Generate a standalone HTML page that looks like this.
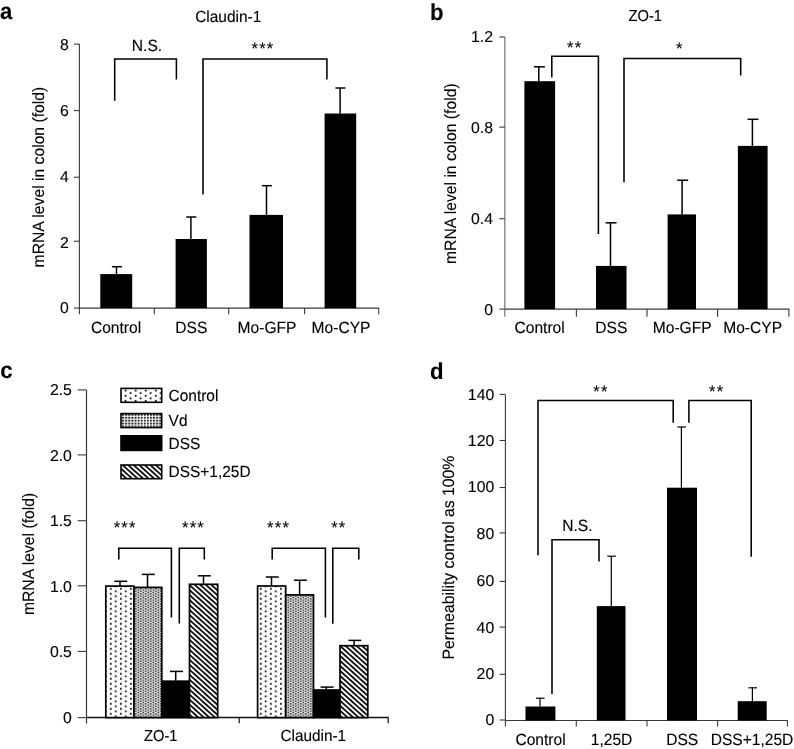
<!DOCTYPE html>
<html><head><meta charset="utf-8"><title>Figure</title>
<style>
html,body{margin:0;padding:0;background:#fff;}
svg{display:block;}
svg text{font-family:"Liberation Sans", Arial, Helvetica, sans-serif;fill:#000;stroke:#000;stroke-width:0.12px;text-rendering:geometricPrecision;}
</style></head><body>
<svg width="794" height="749" viewBox="0 0 794 749">
<defs>
<pattern id="p1" width="10.06" height="5" patternUnits="userSpaceOnUse" patternTransform="translate(110.76 588.8)">
<rect x="-1" y="-1" width="13" height="8" fill="#fff"/>
<circle cx="0" cy="0" r="1"/><circle cx="10.06" cy="0" r="1"/><circle cx="0" cy="5" r="1"/><circle cx="10.06" cy="5" r="1"/>
<circle cx="5.03" cy="2.5" r="1"/>
</pattern>
<pattern id="p1b" width="10.06" height="5" patternUnits="userSpaceOnUse" patternTransform="translate(260.75 588.8)">
<rect x="-1" y="-1" width="13" height="8" fill="#fff"/>
<circle cx="0" cy="0" r="1"/><circle cx="10.06" cy="0" r="1"/><circle cx="0" cy="5" r="1"/><circle cx="10.06" cy="5" r="1"/>
<circle cx="5.03" cy="2.5" r="1"/>
</pattern>
<pattern id="p1c" width="10.06" height="5.2" patternUnits="userSpaceOnUse" patternTransform="translate(125.58 390.6)">
<rect x="-1" y="-1" width="13" height="8" fill="#fff"/>
<circle cx="0" cy="0" r="1"/><circle cx="10.06" cy="0" r="1"/><circle cx="0" cy="5.2" r="1"/><circle cx="10.06" cy="5.2" r="1"/>
<circle cx="5.03" cy="2.6" r="1"/>
</pattern>
<pattern id="p2c" width="3.1" height="2.9" patternUnits="userSpaceOnUse" patternTransform="translate(125.2 416.8)">
<rect x="-1" y="-1" width="6" height="6" fill="#fff"/>
<rect x="0" y="0" width="2.0" height="1.8" fill="#222"/>
</pattern>
<pattern id="p2" width="5" height="2.5" patternUnits="userSpaceOnUse" patternTransform="translate(140.69 621.36)">
<rect x="-1" y="-1" width="8" height="5" fill="#fff"/>
<circle cx="0" cy="0" r="0.88"/><circle cx="5" cy="0" r="0.88"/><circle cx="0" cy="2.5" r="0.88"/><circle cx="5" cy="2.5" r="0.88"/>
<circle cx="2.5" cy="1.25" r="0.88"/>
</pattern>
<pattern id="p4" width="3.7" height="3.7" patternUnits="userSpaceOnUse" patternTransform="rotate(42)">
<rect width="3.7" height="3.7" fill="#fff"/>
<rect x="0" y="0" width="3.7" height="1.7" fill="#000"/>
</pattern>
</defs>
<rect width="794" height="749" fill="#fff"/>
<text transform="translate(0 19.2) scale(0.957 1)" font-size="23.2" text-anchor="start" font-weight="bold">a</text>
<text transform="translate(228.2 21.6) scale(0.965 1)" font-size="16.01" text-anchor="middle">Claudin-1</text>
<line x1="79.4" y1="44.1" x2="79.4" y2="314.2" stroke="#3a3a3a" stroke-width="1.1"/>
<line x1="79.4" y1="308.1" x2="379" y2="308.1" stroke="#3a3a3a" stroke-width="1.1"/>
<line x1="74" y1="308.1" x2="79.4" y2="308.1" stroke="#3a3a3a" stroke-width="1.1"/>
<text transform="translate(68.9 313.4) scale(1.0 1)" font-size="15.8" text-anchor="end">0</text>
<line x1="74" y1="241.2" x2="79.4" y2="241.2" stroke="#3a3a3a" stroke-width="1.1"/>
<text transform="translate(68.9 247.5) scale(1.0 1)" font-size="15.8" text-anchor="end">2</text>
<line x1="74" y1="177.2" x2="79.4" y2="177.2" stroke="#3a3a3a" stroke-width="1.1"/>
<text transform="translate(68.9 181.5) scale(1.0 1)" font-size="15.8" text-anchor="end">4</text>
<line x1="74" y1="110.6" x2="79.4" y2="110.6" stroke="#3a3a3a" stroke-width="1.1"/>
<text transform="translate(68.9 115.7) scale(1.0 1)" font-size="15.8" text-anchor="end">6</text>
<line x1="74" y1="44.1" x2="79.4" y2="44.1" stroke="#3a3a3a" stroke-width="1.1"/>
<text transform="translate(68.9 49.8) scale(1.0 1)" font-size="15.8" text-anchor="end">8</text>
<line x1="154.3" y1="308.1" x2="154.3" y2="314.2" stroke="#3a3a3a" stroke-width="1.1"/>
<line x1="228.7" y1="308.1" x2="228.7" y2="314.2" stroke="#3a3a3a" stroke-width="1.1"/>
<line x1="304.6" y1="308.1" x2="304.6" y2="314.2" stroke="#3a3a3a" stroke-width="1.1"/>
<line x1="378.7" y1="308.1" x2="378.7" y2="314.2" stroke="#3a3a3a" stroke-width="1.1"/>
<text transform="translate(44 267.4) rotate(-90) scale(0.957 1)" font-size="16.41" text-anchor="start">mRNA level in colon (fold)</text>
<rect x="100.3" y="274.1" width="31.9" height="34.0" fill="#000"/>
<line x1="116.5" y1="266.7" x2="116.5" y2="274.1" stroke="#000" stroke-width="1.5"/>
<line x1="111.9" y1="266.7" x2="121.9" y2="266.7" stroke="#000" stroke-width="1.5"/>
<rect x="175.6" y="239" width="31.3" height="69.1" fill="#000"/>
<line x1="190.9" y1="217" x2="190.9" y2="239" stroke="#000" stroke-width="1.5"/>
<line x1="186.3" y1="217" x2="196.3" y2="217" stroke="#000" stroke-width="1.5"/>
<rect x="249.5" y="214.9" width="33.5" height="93.2" fill="#000"/>
<line x1="266.5" y1="185.7" x2="266.5" y2="214.9" stroke="#000" stroke-width="1.5"/>
<line x1="261.9" y1="185.7" x2="271.9" y2="185.7" stroke="#000" stroke-width="1.5"/>
<rect x="324.6" y="113.5" width="31.6" height="194.6" fill="#000"/>
<line x1="340.1" y1="88" x2="340.1" y2="113.5" stroke="#000" stroke-width="1.5"/>
<line x1="335.5" y1="88" x2="345.5" y2="88" stroke="#000" stroke-width="1.5"/>
<text transform="translate(116 333.25) scale(0.957 1)" font-size="16.3" text-anchor="middle">Control</text>
<text transform="translate(191.3 333.25) scale(0.957 1)" font-size="16.3" text-anchor="middle">DSS</text>
<text transform="translate(267 333.25) scale(0.957 1)" font-size="16.3" text-anchor="middle">Mo-GFP</text>
<text transform="translate(341 333.25) scale(0.957 1)" font-size="16.3" text-anchor="middle">Mo-CYP</text>
<polyline points="114.7,100.8 114.7,58.9 176.4,58.9 176.4,79.4" fill="none" stroke="#000" stroke-width="1.55" stroke-linejoin="miter"/>
<text transform="translate(147 50.8) scale(0.957 1)" font-size="16.3" text-anchor="middle">N.S.</text>
<polyline points="203,194.6 203,58.9 326.9,58.9 326.9,79.4" fill="none" stroke="#000" stroke-width="1.55" stroke-linejoin="miter"/>
<text x="251.51" y="53.6" font-size="16.6" letter-spacing="1.2" stroke-width="0.5">***</text>
<text transform="translate(430 19.5) scale(0.957 1)" font-size="23.2" text-anchor="start" font-weight="bold">b</text>
<text transform="translate(645.3 21.4) scale(0.925 1)" font-size="15.89" text-anchor="middle">ZO-1</text>
<line x1="504.8" y1="37" x2="504.8" y2="316.8" stroke="#777" stroke-width="1.2"/>
<line x1="504.8" y1="309.1" x2="789.3" y2="309.1" stroke="#3a3a3a" stroke-width="1.1"/>
<line x1="499.3" y1="309.1" x2="504.8" y2="309.1" stroke="#3a3a3a" stroke-width="1.1"/>
<text transform="translate(493.0 314.90000000000003) scale(1.0 1)" font-size="15.8" text-anchor="end">0</text>
<line x1="499.3" y1="218.7" x2="504.8" y2="218.7" stroke="#3a3a3a" stroke-width="1.1"/>
<text transform="translate(493.0 223.79999999999998) scale(1.0 1)" font-size="15.8" text-anchor="end">0.4</text>
<line x1="499.3" y1="127.1" x2="504.8" y2="127.1" stroke="#3a3a3a" stroke-width="1.1"/>
<text transform="translate(493.0 132.79999999999998) scale(1.0 1)" font-size="15.8" text-anchor="end">0.8</text>
<line x1="499.3" y1="37" x2="504.8" y2="37" stroke="#3a3a3a" stroke-width="1.1"/>
<text transform="translate(493.0 41.9) scale(1.0 1)" font-size="15.8" text-anchor="end">1.2</text>
<line x1="576.4" y1="309.1" x2="576.4" y2="316.7" stroke="#3a3a3a" stroke-width="1.1"/>
<line x1="647" y1="309.1" x2="647" y2="316.7" stroke="#3a3a3a" stroke-width="1.1"/>
<line x1="717.6" y1="309.1" x2="717.6" y2="316.7" stroke="#3a3a3a" stroke-width="1.1"/>
<line x1="788.9" y1="309.1" x2="788.9" y2="316.7" stroke="#3a3a3a" stroke-width="1.1"/>
<text transform="translate(456 264.0) rotate(-90) scale(0.957 1)" font-size="16.41" text-anchor="start">mRNA level in colon (fold)</text>
<rect x="524.4" y="81.2" width="30.7" height="227.9" fill="#000"/>
<line x1="538.8" y1="66.8" x2="538.8" y2="81.2" stroke="#000" stroke-width="1.5"/>
<line x1="533.9" y1="66.8" x2="544.9" y2="66.8" stroke="#000" stroke-width="1.5"/>
<rect x="596" y="265.9" width="30.5" height="43.2" fill="#000"/>
<line x1="610.5" y1="222.8" x2="610.5" y2="265.9" stroke="#000" stroke-width="1.5"/>
<line x1="605.6" y1="222.8" x2="616.6" y2="222.8" stroke="#000" stroke-width="1.5"/>
<rect x="667.6" y="214.4" width="28.4" height="94.7" fill="#000"/>
<line x1="682.1" y1="180.2" x2="682.1" y2="214.4" stroke="#000" stroke-width="1.5"/>
<line x1="677.2" y1="180.2" x2="688.2" y2="180.2" stroke="#000" stroke-width="1.5"/>
<rect x="737.9" y="145.9" width="29.7" height="163.2" fill="#000"/>
<line x1="752.4" y1="119.3" x2="752.4" y2="145.9" stroke="#000" stroke-width="1.5"/>
<line x1="747.5" y1="119.3" x2="758.5" y2="119.3" stroke="#000" stroke-width="1.5"/>
<text transform="translate(539.6 333.25) scale(0.957 1)" font-size="16.3" text-anchor="middle">Control</text>
<text transform="translate(611.3 333.25) scale(0.957 1)" font-size="16.3" text-anchor="middle">DSS</text>
<text transform="translate(682.2 333.25) scale(0.957 1)" font-size="16.3" text-anchor="middle">Mo-GFP</text>
<text transform="translate(752.6 333.25) scale(0.957 1)" font-size="16.3" text-anchor="middle">Mo-CYP</text>
<polyline points="551.8,77.4 551.8,56.3 598.4,56.3 598.4,234" fill="none" stroke="#000" stroke-width="1.55" stroke-linejoin="miter"/>
<text x="567.04" y="53.4" font-size="16.6" letter-spacing="1.2" stroke-width="0.5">**</text>
<polyline points="624,182.3 624,58.4 740.7,58.4 740.7,75.6" fill="none" stroke="#000" stroke-width="1.55" stroke-linejoin="miter"/>
<text x="676.07" y="54.0" font-size="16.6" letter-spacing="1.2" stroke-width="0.5">*</text>
<text transform="translate(0.2 377.8) scale(0.957 1)" font-size="23.2" text-anchor="start" font-weight="bold">c</text>
<line x1="86.5" y1="389.9" x2="86.5" y2="723.6" stroke="#3a3a3a" stroke-width="1.2"/>
<line x1="86.5" y1="717.6" x2="388.7" y2="717.6" stroke="#111" stroke-width="1.5"/>
<line x1="77.7" y1="717.6" x2="86.5" y2="717.6" stroke="#3a3a3a" stroke-width="1.1"/>
<text transform="translate(71.9 722.5) scale(1.0 1)" font-size="15.8" text-anchor="end">0</text>
<line x1="77.7" y1="651.4" x2="86.5" y2="651.4" stroke="#3a3a3a" stroke-width="1.1"/>
<text transform="translate(71.9 657.3000000000001) scale(1.0 1)" font-size="15.8" text-anchor="end">0.5</text>
<line x1="77.7" y1="585.8" x2="86.5" y2="585.8" stroke="#3a3a3a" stroke-width="1.1"/>
<text transform="translate(71.9 591.7) scale(1.0 1)" font-size="15.8" text-anchor="end">1.0</text>
<line x1="77.7" y1="520.7" x2="86.5" y2="520.7" stroke="#3a3a3a" stroke-width="1.1"/>
<text transform="translate(71.9 526.3000000000001) scale(1.0 1)" font-size="15.8" text-anchor="end">1.5</text>
<line x1="77.7" y1="454.9" x2="86.5" y2="454.9" stroke="#3a3a3a" stroke-width="1.1"/>
<text transform="translate(71.9 460.8) scale(1.0 1)" font-size="15.8" text-anchor="end">2.0</text>
<line x1="77.7" y1="389.9" x2="86.5" y2="389.9" stroke="#3a3a3a" stroke-width="1.1"/>
<text transform="translate(71.9 394.8) scale(1.0 1)" font-size="15.8" text-anchor="end">2.5</text>
<line x1="239.2" y1="717.6" x2="239.2" y2="723.3" stroke="#111" stroke-width="1.2"/>
<line x1="388.2" y1="717.6" x2="388.2" y2="723.3" stroke="#111" stroke-width="1.2"/>
<text transform="translate(34.1 615.1) rotate(-90) scale(0.957 1)" font-size="16.46" text-anchor="start">mRNA level (fold)</text>
<rect x="121" y="388.4" width="40.7" height="13.9" fill="url(#p1c)" stroke="#000" stroke-width="1.6"/>
<text transform="translate(168.6 401.1) scale(0.957 1)" font-size="16.14" text-anchor="start">Control</text>
<rect x="121" y="413.59999999999997" width="40.7" height="14.0" fill="url(#p2c)" stroke="#000" stroke-width="1.6"/>
<text transform="translate(168.6 425.5) scale(0.957 1)" font-size="16.14" text-anchor="start">Vd</text>
<rect x="121" y="435.8" width="40.7" height="14.6" fill="#000" stroke="#000" stroke-width="1.6"/>
<text transform="translate(168.6 448.8) scale(0.957 1)" font-size="16.14" text-anchor="start">DSS</text>
<rect x="121" y="465.0" width="40.7" height="13.7" fill="url(#p4)" stroke="#000" stroke-width="1.6"/>
<text transform="translate(168.6 477.3) scale(0.957 1)" font-size="16.14" text-anchor="start">DSS+1,25D</text>
<line x1="120" y1="581.3" x2="120" y2="586.1" stroke="#000" stroke-width="1.5"/>
<line x1="114.3" y1="581.3" x2="127.3" y2="581.3" stroke="#000" stroke-width="1.5"/>
<rect x="105.8" y="586.1" width="28.2" height="131.5" fill="url(#p1)" stroke="#000" stroke-width="1.7"/>
<line x1="147.5" y1="574.4" x2="147.5" y2="587.4" stroke="#000" stroke-width="1.5"/>
<line x1="141.8" y1="574.4" x2="154.8" y2="574.4" stroke="#000" stroke-width="1.5"/>
<rect x="134.0" y="587.4" width="27.8" height="130.2" fill="url(#p2)" stroke="#000" stroke-width="1.7"/>
<line x1="175.7" y1="671.4" x2="175.7" y2="681.2" stroke="#000" stroke-width="1.5"/>
<line x1="170.0" y1="671.4" x2="183.0" y2="671.4" stroke="#000" stroke-width="1.5"/>
<rect x="161.8" y="681.2" width="27.7" height="36.4" fill="#000" stroke="#000" stroke-width="1.7"/>
<line x1="203.5" y1="575.8" x2="203.5" y2="584.3" stroke="#000" stroke-width="1.5"/>
<line x1="197.8" y1="575.8" x2="210.8" y2="575.8" stroke="#000" stroke-width="1.5"/>
<rect x="189.5" y="584.3" width="28.2" height="133.3" fill="url(#p4)" stroke="#000" stroke-width="1.7"/>
<line x1="271.5" y1="577.0" x2="271.5" y2="586.0" stroke="#000" stroke-width="1.5"/>
<line x1="265.8" y1="577.0" x2="278.8" y2="577.0" stroke="#000" stroke-width="1.5"/>
<rect x="257.6" y="586.0" width="28.1" height="131.6" fill="url(#p1b)" stroke="#000" stroke-width="1.7"/>
<line x1="299.6" y1="580.2" x2="299.6" y2="594.9" stroke="#000" stroke-width="1.5"/>
<line x1="293.90000000000003" y1="580.2" x2="306.90000000000003" y2="580.2" stroke="#000" stroke-width="1.5"/>
<rect x="285.7" y="594.9" width="27.8" height="122.7" fill="url(#p2)" stroke="#000" stroke-width="1.7"/>
<line x1="326.3" y1="687.1" x2="326.3" y2="690.0" stroke="#000" stroke-width="1.5"/>
<line x1="320.6" y1="687.1" x2="333.6" y2="687.1" stroke="#000" stroke-width="1.5"/>
<rect x="313.5" y="690.0" width="26.5" height="27.6" fill="#000" stroke="#000" stroke-width="1.7"/>
<line x1="354.1" y1="640.4" x2="354.1" y2="645.7" stroke="#000" stroke-width="1.5"/>
<line x1="348.40000000000003" y1="640.4" x2="361.40000000000003" y2="640.4" stroke="#000" stroke-width="1.5"/>
<rect x="340.0" y="645.7" width="27.8" height="71.9" fill="url(#p4)" stroke="#000" stroke-width="1.7"/>
<text transform="translate(160.8 741.4) scale(0.925 1)" font-size="15.89" text-anchor="middle">ZO-1</text>
<text transform="translate(313.3 741.4) scale(0.96 1)" font-size="15.99" text-anchor="middle">Claudin-1</text>
<polyline points="118.8,559.4 118.8,548.3 171.4,548.3 171.4,617.4" fill="none" stroke="#000" stroke-width="1.55" stroke-linejoin="miter"/>
<polyline points="179.3,623.6 179.3,548.3 204.3,548.3 204.3,559.4" fill="none" stroke="#000" stroke-width="1.55" stroke-linejoin="miter"/>
<polyline points="272.2,559.6 272.2,548.3 325.4,548.3 325.4,617.4" fill="none" stroke="#000" stroke-width="1.55" stroke-linejoin="miter"/>
<polyline points="332.8,623.7 332.8,548.3 358.8,548.3 358.8,559.4" fill="none" stroke="#000" stroke-width="1.55" stroke-linejoin="miter"/>
<text x="113.71" y="533.3" font-size="16.6" letter-spacing="1.2" stroke-width="0.5">***</text>
<text x="182.01" y="533.3" font-size="16.6" letter-spacing="1.2" stroke-width="0.5">***</text>
<text x="267.11" y="533.3" font-size="16.6" letter-spacing="1.2" stroke-width="0.5">***</text>
<text x="331.14" y="533.3" font-size="16.6" letter-spacing="1.2" stroke-width="0.5">**</text>
<text transform="translate(430 378.5) scale(0.957 1)" font-size="23.2" text-anchor="start" font-weight="bold">d</text>
<line x1="505.4" y1="394.4" x2="505.4" y2="726.5" stroke="#3a3a3a" stroke-width="1.1"/>
<line x1="505.4" y1="720.5" x2="787.8" y2="720.5" stroke="#3a3a3a" stroke-width="1.1"/>
<line x1="499.6" y1="720" x2="505.4" y2="720" stroke="#3a3a3a" stroke-width="1.1"/>
<text transform="translate(494.2 725.4) scale(1.0 1)" font-size="15.8" text-anchor="end">0</text>
<line x1="499.6" y1="674.3" x2="505.4" y2="674.3" stroke="#3a3a3a" stroke-width="1.1"/>
<text transform="translate(494.2 679.2) scale(1.0 1)" font-size="15.8" text-anchor="end">20</text>
<line x1="499.6" y1="627.1" x2="505.4" y2="627.1" stroke="#3a3a3a" stroke-width="1.1"/>
<text transform="translate(494.2 632.8000000000001) scale(1.0 1)" font-size="15.8" text-anchor="end">40</text>
<line x1="499.6" y1="581.4" x2="505.4" y2="581.4" stroke="#3a3a3a" stroke-width="1.1"/>
<text transform="translate(494.2 586.1) scale(1.0 1)" font-size="15.8" text-anchor="end">60</text>
<line x1="499.6" y1="532.9" x2="505.4" y2="532.9" stroke="#3a3a3a" stroke-width="1.1"/>
<text transform="translate(494.2 539.0) scale(1.0 1)" font-size="15.8" text-anchor="end">80</text>
<line x1="499.6" y1="487.5" x2="505.4" y2="487.5" stroke="#3a3a3a" stroke-width="1.1"/>
<text transform="translate(494.2 492.40000000000003) scale(1.0 1)" font-size="15.8" text-anchor="end">100</text>
<line x1="499.6" y1="440.5" x2="505.4" y2="440.5" stroke="#3a3a3a" stroke-width="1.1"/>
<text transform="translate(494.2 446.1) scale(1.0 1)" font-size="15.8" text-anchor="end">120</text>
<line x1="499.6" y1="394.4" x2="505.4" y2="394.4" stroke="#3a3a3a" stroke-width="1.1"/>
<text transform="translate(494.2 399.8) scale(1.0 1)" font-size="15.8" text-anchor="end">140</text>
<line x1="576.3" y1="720.5" x2="576.3" y2="726.5" stroke="#3a3a3a" stroke-width="1.1"/>
<line x1="647" y1="720.5" x2="647" y2="726.5" stroke="#3a3a3a" stroke-width="1.1"/>
<line x1="717.6" y1="720.5" x2="717.6" y2="726.5" stroke="#3a3a3a" stroke-width="1.1"/>
<line x1="787.4" y1="720.5" x2="787.4" y2="726.5" stroke="#3a3a3a" stroke-width="1.1"/>
<text transform="translate(454.3 659.4) rotate(-90) scale(0.957 1)" font-size="16.46" text-anchor="start">Permeability control as 100%</text>
<rect x="525.5" y="706.5" width="29.9" height="14.0" fill="#000"/>
<line x1="540" y1="698.2" x2="540" y2="706.5" stroke="#000" stroke-width="1.2"/>
<line x1="536.0" y1="698.2" x2="544.5999999999999" y2="698.2" stroke="#000" stroke-width="1.2"/>
<rect x="596.8" y="606.1" width="28.7" height="114.4" fill="#000"/>
<line x1="611.3" y1="556.2" x2="611.3" y2="606.1" stroke="#000" stroke-width="1.2"/>
<line x1="607.3" y1="556.2" x2="615.8999999999999" y2="556.2" stroke="#000" stroke-width="1.2"/>
<rect x="667" y="487.7" width="30" height="232.8" fill="#000"/>
<line x1="681.4" y1="427" x2="681.4" y2="487.7" stroke="#000" stroke-width="1.2"/>
<line x1="677.4" y1="427" x2="685.9999999999999" y2="427" stroke="#000" stroke-width="1.2"/>
<rect x="737.7" y="701.2" width="29.0" height="19.3" fill="#000"/>
<line x1="752.4" y1="687.8" x2="752.4" y2="701.2" stroke="#000" stroke-width="1.2"/>
<line x1="748.4" y1="687.8" x2="756.9999999999999" y2="687.8" stroke="#000" stroke-width="1.2"/>
<text transform="translate(540.5 745.3) scale(0.957 1)" font-size="16.3" text-anchor="middle">Control</text>
<text transform="translate(611.5 745.3) scale(0.957 1)" font-size="16.3" text-anchor="middle">1,25D</text>
<text transform="translate(682.2 745.3) scale(0.957 1)" font-size="16.3" text-anchor="middle">DSS</text>
<text transform="translate(752 745.3) scale(0.957 1)" font-size="16.3" text-anchor="middle">DSS+1,25D</text>
<polyline points="538,555.3 538,400.4 673.2,400.4 673.2,422.7" fill="none" stroke="#000" stroke-width="1.55" stroke-linejoin="miter"/>
<polyline points="688.9,422.7 688.9,400.4 751.2,400.4 751.2,556.7" fill="none" stroke="#000" stroke-width="1.55" stroke-linejoin="miter"/>
<polyline points="552,694 552,539.7 599,539.7 599,561.5" fill="none" stroke="#000" stroke-width="1.55" stroke-linejoin="miter"/>
<text transform="translate(577.4 531.3) scale(0.957 1)" font-size="16.3" text-anchor="middle">N.S.</text>
<text x="593.24" y="396.5" font-size="16.6" letter-spacing="1.2" stroke-width="0.5">**</text>
<text x="709.04" y="396.5" font-size="16.6" letter-spacing="1.2" stroke-width="0.5">**</text>
</svg>
</body></html>
